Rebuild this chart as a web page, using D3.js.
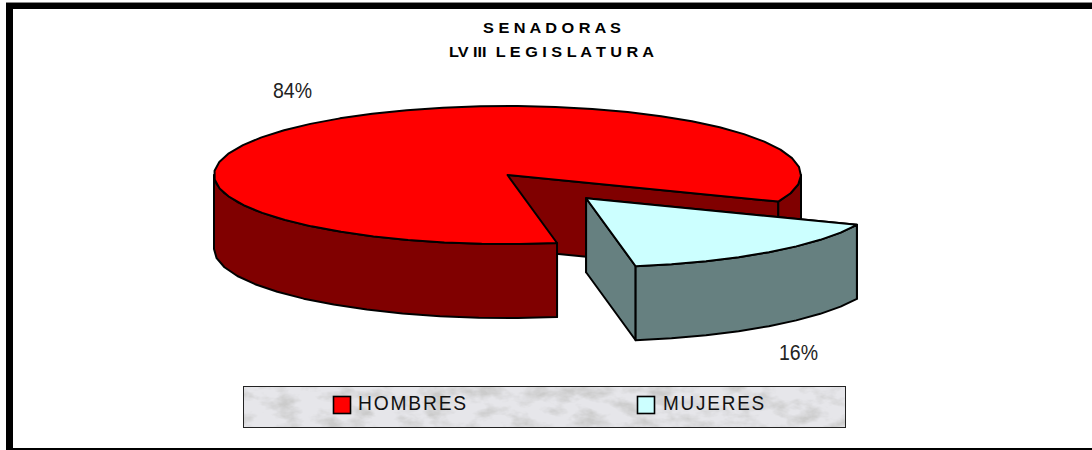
<!DOCTYPE html>
<html>
<head>
<meta charset="utf-8">
<script src="https://cdn.jsdelivr.net/npm/d3@7"></script>
<style>
  html, body { margin: 0; padding: 0; background: #fff; overflow: hidden; }
  svg { display: block; }
</style>
</head>
<body>
<svg id="chart" width="1092" height="450"></svg>
<script>
var titleLines = ["S E N A D O R A S", "LV III  L E G I S L A T U R A"];
var categories = ["HOMBRES", "MUJERES"];
var shares = [84, 16];
var shareLabels = ["84%", "16%"];
var topColors = ["#ff0000", "#ccffff"];
var sideColors = ["#800000", "#668080"];

var svg = d3.select("#chart");

var defs = svg.append("defs");
var marble = defs.append("filter").attr("id", "marble")
    .attr("x", 0).attr("y", 0).attr("width", 1).attr("height", 1);
marble.append("feTurbulence")
    .attr("type", "fractalNoise")
    .attr("baseFrequency", "0.04 0.07")
    .attr("numOctaves", 4)
    .attr("seed", 23);
marble.append("feColorMatrix")
    .attr("type", "matrix")
    .attr("values", "0 0 0 0 0.6  0 0 0 0 0.6  0 0 0 0 0.6  2.6 0 0 0 -1.08");
marble.append("feComposite").attr("in2", "SourceGraphic").attr("operator", "over");

// frame, no right side on the original
svg.append("rect").attr("x", 6).attr("y", 2).attr("width", 1086).attr("height", 1).attr("fill", "#888");
svg.append("rect").attr("x", 6).attr("y", 3).attr("width", 1086).attr("height", 6).attr("fill", "#000");
svg.append("rect").attr("x", 6).attr("y", 3).attr("width", 7).attr("height", 447).attr("fill", "#000");
svg.append("rect").attr("x", 6).attr("y", 448).attr("width", 1086).attr("height", 2).attr("fill", "#000");

// title
var titleWidths = [138, 205];
svg.selectAll("text.title").data(titleLines).enter().append("text")
    .attr("class", "title")
    .attr("x", function(d, i) { return i == 0 ? 483 : 449; })
    .attr("y", function(d, i) { return 33 + i * 24; })
    .attr("textLength", function(d, i) { return titleWidths[i]; })
    .attr("lengthAdjust", "spacingAndGlyphs")
    .attr("font-family", "Liberation Sans")
    .attr("font-weight", "bold")
    .attr("font-size", 15.5)
    .style("white-space", "pre")
    .text(function(d) { return d; });

// pie geometry: unit circle mapped to the flattened disc
var px = d3.scaleLinear().domain([-1, 1]).range([214, 801]);
var py = d3.scaleLinear().domain([-1, 1]).range([106, 244]);
var depth = 74;
var explode = 0.43;

// d3 angles run clockwise from 12 o'clock, same as on screen
var firstAngle = 2.972;
var pie = d3.pie().sort(null).startAngle(firstAngle).endAngle(firstAngle + Math.PI * 2);
var arcs = pie(shares);

function pt(a, r, ox, oy, dz) {
    return [px(r * Math.sin(a) + ox), py(-r * Math.cos(a) + oy) + dz];
}

// coarse polyline like the original renderer
function rim(a0, a1, ox, oy, dz) {
    var n = Math.max(2, Math.round(Math.abs(a1 - a0) / 0.13));
    return d3.range(n + 1).map(function(i) {
        return pt(a0 + (a1 - a0) * i / n, 1, ox, oy, dz);
    });
}

var line = d3.line();

function poly(points, fill, sw) {
    svg.append("path")
        .attr("d", line(points) + "Z")
        .attr("fill", fill)
        .attr("stroke", "#000")
        .attr("stroke-width", sw || 2)
        .attr("stroke-linejoin", "round");
}

function outerWall(a0, a1, ox, oy, fill) {
    // only the parts of the rim that face the viewer, one per turn
    [0, Math.PI * 2].forEach(function(turn) {
        var lo = Math.max(a0, Math.PI / 2 + turn), hi = Math.min(a1, Math.PI * 1.5 + turn);
        if (hi > lo) {
            poly(rim(lo, hi, ox, oy, 0).concat(rim(lo, hi, ox, oy, depth).reverse()), fill);
        }
    });
}

function drawSlice(d, i, ox, oy) {
    var c = pt(0, 0, ox, oy, 0), cz = [c[0], c[1] + depth];
    var s = pt(d.startAngle, 1, ox, oy, 0), e = pt(d.endAngle, 1, ox, oy, 0);
    // the start face looks away from the viewer, so it goes down first
    poly([c, s, [s[0], s[1] + depth], cz], sideColors[i]);
    poly([c, e, [e[0], e[1] + depth], cz], sideColors[i]);
    outerWall(d.startAngle, d.endAngle, ox, oy, sideColors[i]);
    poly([c].concat(rim(d.startAngle, d.endAngle, ox, oy, 0)), topColors[i]);
}

// big slice: its inner walls show through the gap, so draw it first
drawSlice(arcs[0], 0, 0, 0);
var mid = (arcs[1].startAngle + arcs[1].endAngle) / 2;
drawSlice(arcs[1], 1, explode * Math.sin(mid), -explode * Math.cos(mid));

// value labels
var labelAt = [[273, 98], [779, 360]];
svg.selectAll("text.share").data(shareLabels).enter().append("text")
    .attr("class", "share")
    .attr("x", function(d, i) { return labelAt[i][0]; })
    .attr("y", function(d, i) { return labelAt[i][1]; })
    .attr("textLength", 39)
    .attr("lengthAdjust", "spacingAndGlyphs")
    .attr("font-family", "Liberation Sans")
    .attr("font-size", 22)
    .attr("fill", "#222")
    .text(function(d) { return d; });

// legend
svg.append("rect")
    .attr("x", 243.5).attr("y", 386.5).attr("width", 602).attr("height", 41)
    .attr("fill", "#e6e6ea")
    .attr("filter", "url(#marble)");
svg.append("rect")
    .attr("x", 243.5).attr("y", 386.5).attr("width", 602).attr("height", 41)
    .attr("fill", "none").attr("stroke", "#222").attr("stroke-width", 1);

var legendX = d3.scalePoint().domain(categories).range([333, 637]);
var item = svg.selectAll("g.item").data(categories).enter().append("g")
    .attr("class", "item")
    .attr("transform", function(d) { return "translate(" + legendX(d) + ",396)"; });
item.append("rect")
    .attr("x", 0.5).attr("y", 0.5).attr("width", 17).attr("height", 17)
    .attr("fill", function(d, i) { return topColors[i]; })
    .attr("stroke", "#000").attr("stroke-width", 1.6);
item.append("text")
    .attr("x", function(d, i) { return i == 0 ? 25 : 26; })
    .attr("y", 14)
    .attr("textLength", function(d, i) { return i == 0 ? 110 : 103; })
    .attr("lengthAdjust", "spacingAndGlyphs")
    .attr("letter-spacing", 2)
    .attr("font-family", "Liberation Sans")
    .attr("font-size", 21)
    .attr("fill", "#111")
    .text(function(d) { return d; });
</script>
</body>
</html>
